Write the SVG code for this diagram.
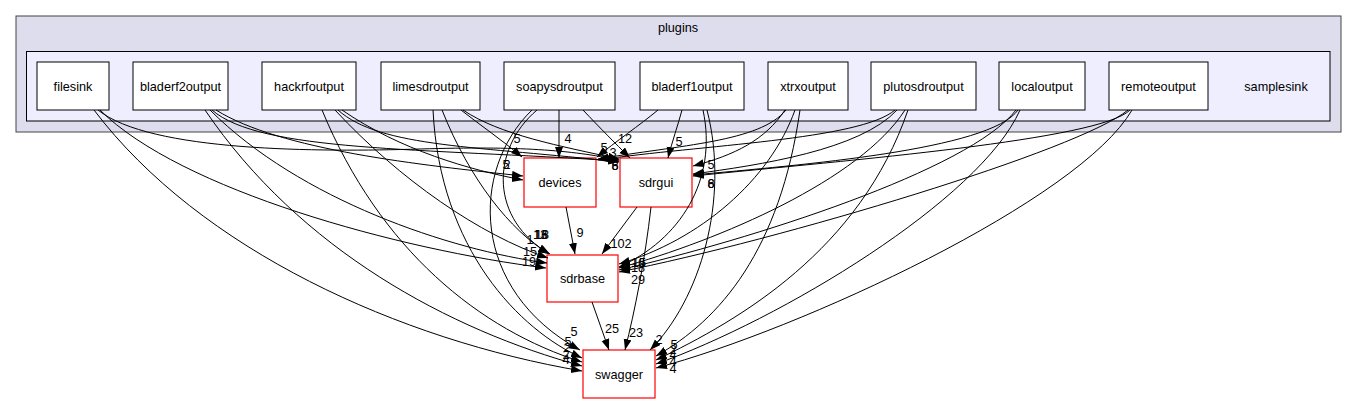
<svg xmlns="http://www.w3.org/2000/svg" width="1357" height="404" viewBox="0 0 1357 404">
<style>
text{font-family:"Liberation Sans",Arial,Helvetica,sans-serif;font-size:12.7px;fill:#000}
.lbl{text-anchor:middle}
.node rect{fill:#fff;stroke:#000;stroke-width:1}
.red rect{fill:#fff;stroke:#ff0000;stroke-width:1.2}
#edges path{fill:none;stroke:#000;stroke-width:1;marker-end:url(#ah)}
#edges text{text-anchor:middle}
</style>
<defs>
<marker id="ah" markerUnits="userSpaceOnUse" markerWidth="12" markerHeight="9" refX="11" refY="4" orient="auto">
<path d="M0,0 L11,4 L0,8 z" fill="#000"/>
</marker>
</defs>
<rect width="1357" height="404" fill="#fff"/>
<g id="cluster_plugins">
<rect x="16" y="16" width="1325" height="116" fill="#ddddee" stroke="#444"/>
<text x="678" y="31.5" class="lbl">plugins</text>
</g>
<g id="cluster_samplesink">
<rect x="26.5" y="51.5" width="1303.5" height="69.5" fill="#eeeeff" stroke="#000"/>
<text x="1276" y="90.5" class="lbl">samplesink</text>
</g>
<g id="filesink" class="node"><rect x="37" y="62" width="72" height="48"/><text x="73" y="90.5" class="lbl">filesink</text></g>
<g id="bladerf2output" class="node"><rect x="133" y="62" width="95" height="48"/><text x="180.5" y="90.5" class="lbl">bladerf2output</text></g>
<g id="hackrfoutput" class="node"><rect x="262" y="62" width="94" height="48"/><text x="309" y="90.5" class="lbl">hackrfoutput</text></g>
<g id="limesdroutput" class="node"><rect x="381" y="62" width="99" height="48"/><text x="430.5" y="90.5" class="lbl">limesdroutput</text></g>
<g id="soapysdroutput" class="node"><rect x="504" y="62" width="111" height="48"/><text x="559.5" y="90.5" class="lbl">soapysdroutput</text></g>
<g id="bladerf1output" class="node"><rect x="640" y="62" width="104" height="48"/><text x="692" y="90.5" class="lbl">bladerf1output</text></g>
<g id="xtrxoutput" class="node"><rect x="768" y="62" width="80" height="48"/><text x="808" y="90.5" class="lbl">xtrxoutput</text></g>
<g id="plutosdroutput" class="node"><rect x="871" y="62" width="105" height="48"/><text x="923.5" y="90.5" class="lbl">plutosdroutput</text></g>
<g id="localoutput" class="node"><rect x="999" y="62" width="86" height="48"/><text x="1042" y="90.5" class="lbl">localoutput</text></g>
<g id="remoteoutput" class="node"><rect x="1109" y="62" width="99" height="48"/><text x="1158.5" y="90.5" class="lbl">remoteoutput</text></g>
<g id="devices" class="red"><rect x="524" y="158" width="72" height="49"/><text x="560" y="186.5" class="lbl">devices</text></g>
<g id="sdrgui" class="red"><rect x="620" y="158" width="72" height="49"/><text x="656" y="186.5" class="lbl">sdrgui</text></g>
<g id="sdrbase" class="red"><rect x="547" y="255" width="71" height="47"/><text x="582.5" y="282.5" class="lbl">sdrbase</text></g>
<g id="swagger" class="red"><rect x="583" y="350" width="72" height="48"/><text x="619" y="378.5" class="lbl">swagger</text></g>
<g id="edges">
<!-- filesink -->
<path d="M98,110 C150,152 320,152 420,149 C520,146 570,150 619,160"/>
<path d="M100,110 C180,190 400,250 546,268"/>
<path d="M94,110 C200,250 400,340 582,371"/>
<!-- bladerf2output -->
<path d="M216,110 C280,150 420,165 523,176"/>
<path d="M212,110 C260,152 420,148 619,161"/>
<path d="M210,110 C300,200 450,250 547,263"/>
<path d="M205,110 C300,250 450,330 582,366"/>
<!-- hackrfoutput -->
<path d="M342,110 C400,150 470,170 523,180"/>
<path d="M338,110 C380,148 480,146 619,162"/>
<path d="M335,110 C400,180 480,235 548,258"/>
<path d="M322,110 C380,250 480,330 582,362"/>
<!-- limesdroutput -->
<path d="M461,110 C480,125 502,140 522,157"/>
<path d="M463,110 C500,135 560,146 619,159"/>
<path d="M442,110 C470,180 510,230 549,254"/>
<path d="M433,110 C440,250 520,330 582,358"/>
<!-- soapysdroutput -->
<path d="M559,110 L559,158"/>
<path d="M583,110 C600,128 615,143 630,158"/>
<path d="M537,110 C490,150 490,220 550,254"/>
<path d="M532,110 C470,170 470,290 580,350"/>
<!-- bladerf1output -->
<path d="M658,110 C640,125 615,142 597,157"/>
<path d="M682,110 C678,125 672,142 668,158"/>
<path d="M703,110 C718,180 680,240 619,267"/>
<path d="M707,110 C730,200 700,300 650,350"/>
<!-- xtrxoutput -->
<path d="M786,110 C760,142 680,145 598,159"/>
<path d="M785,110 C765,140 735,155 693,166"/>
<path d="M795,110 C770,180 700,240 619,264"/>
<path d="M800,110 C780,250 720,320 656,356"/>
<!-- plutosdroutput -->
<path d="M895,110 C860,140 700,145 598,160"/>
<path d="M897,110 C860,150 760,165 693,174"/>
<path d="M905,110 C860,180 720,240 619,268"/>
<path d="M908,110 C860,250 740,320 656,360"/>
<!-- localoutput -->
<path d="M1018,110 C990,150 800,165 693,175"/>
<path d="M1016,110 C970,170 750,240 619,270"/>
<path d="M1020,110 C980,200 780,320 656,364"/>
<!-- remoteoutput -->
<path d="M1130,110 C1100,140 850,160 693,176"/>
<path d="M1128,110 C1080,150 780,240 619,272"/>
<path d="M1132,110 C1080,200 800,330 656,368"/>
<!-- internal -->
<path d="M566,207 L575,254"/>
<path d="M637,207 L602,254"/>
<path d="M651,207 C645,260 635,310 625,350"/>
<path d="M592,302 L609,350"/>
<!-- labels -->
<text x="568" y="143">4</text>
<text x="625" y="143">12</text>
<text x="679" y="146">5</text>
<text x="517" y="143">5</text>
<text x="506" y="169">5</text>
<text x="507" y="169">2</text>
<text x="604" y="152">5</text>
<text x="613" y="157">3</text>
<text x="615" y="170">6</text>
<text x="615" y="170">8</text>
<text x="711" y="169">5</text>
<text x="711" y="188">6</text>
<text x="711" y="188">8</text>
<text x="580" y="237">9</text>
<text x="621" y="248">102</text>
<text x="540" y="239">13</text>
<text x="541" y="239">16</text>
<text x="542" y="239">18</text>
<text x="530" y="244">1</text>
<text x="530" y="256">15</text>
<text x="529" y="266">19</text>
<text x="638" y="267">16</text>
<text x="639" y="267">15</text>
<text x="638" y="272">18</text>
<text x="638" y="284">29</text>
<text x="612" y="333">25</text>
<text x="636" y="337">23</text>
<text x="574" y="336">5</text>
<text x="568" y="346">5</text>
<text x="567" y="352">2</text>
<text x="566" y="359">2</text>
<text x="566" y="364">4</text>
<text x="659" y="344">2</text>
<text x="674" y="349">5</text>
<text x="673" y="354">2</text>
<text x="673" y="359">4</text>
<text x="673" y="366">4</text>
<text x="673" y="373">4</text>
</g>
</svg>
